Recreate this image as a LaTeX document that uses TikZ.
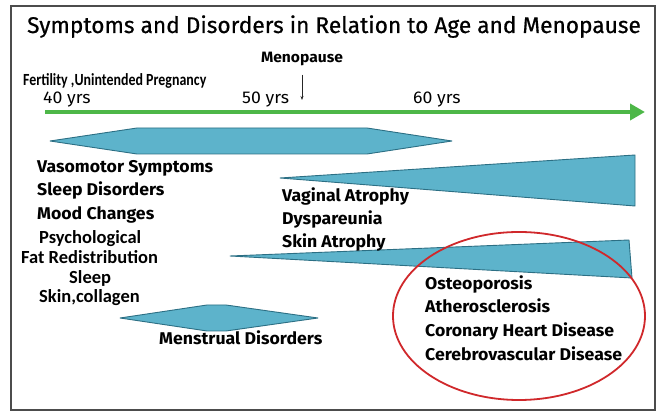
\documentclass[tikz,border=0pt]{standalone}
\usepackage{fontspec}
\setmainfont{Fira Sans}
\newfontfamily\comicfont[FakeStretch=1.04]{Fira Sans}
\newfontfamily\titlefont[FakeBold=0.6]{Fira Sans}
\newfontfamily\calfont{Carlito}
\newfontfamily\narrowfont[FakeStretch=0.82]{Carlito}
\usepackage{tikz}
\usetikzlibrary{arrows.meta,positioning}
\definecolor{bandfill}{HTML}{5DB3CB}
\definecolor{bandline}{HTML}{2C6F84}
\definecolor{ageline}{HTML}{4DB748}
\definecolor{ring}{HTML}{D0282B}

\begin{document}
\begin{tikzpicture}[x=1pt,y=-1pt,
  lbl/.style={anchor=base west,inner sep=0pt,font=\comicfont\fontsize{17}{19}\selectfont\bfseries},
  cal/.style={anchor=base west,inner sep=0pt,font=\calfont\fontsize{18.5}{20}\selectfont\bfseries},
  age/.style={anchor=base west,inner sep=0pt,font=\comicfont\fontsize{17}{19}\selectfont},
  band/.style={fill=bandfill,draw=bandline,line width=0.9pt,line join=round}]
 \useasboundingbox (0,0) rectangle (657,411);
 \draw[gray!60!black,line width=1.2pt] (11,6) rectangle (655,410);
 % title
 \node[anchor=base,inner sep=0pt,font=\titlefont\fontsize{22.7}{25}\selectfont] (title) at (334,33)
   {Symptoms and Disorders in Relation to Age and Menopause};
 % age axis
 \node[anchor=base west,inner sep=0pt,font=\narrowfont\fontsize{17}{19}\selectfont\bfseries] (fert) at (23,86)
   {Fertility ,Unintended Pregnancy};
 \node[anchor=base,inner sep=0pt,font=\comicfont\fontsize{15}{17}\selectfont\bfseries] (meno) at (302,63) {Menopause};
 \coordinate (mp) at (302,100);
 \draw[gray!30!black,line width=0.7pt,-{Stealth[length=4pt,width=3pt]}] ([yshift=-8pt]meno.south) -- (mp);
 \node[age] (y40) at (43,104) {40 yrs};
 \node[age] (y50) at (242,104) {50 yrs};
 \node[age] (y60) at (413,104) {60 yrs};
 \coordinate (t0) at (45,112);
 \coordinate (t1) at (645,112);
 \draw[ageline,line width=4.5pt,-{Triangle[length=15pt,width=16pt]}] (t0) -- (t1);
 % bands
 \draw[band] (50,141) -- (137,128) -- (367,128) -- (452,141) -- (367,154) -- (137,154) -- cycle;
 \draw[band] (280,178) -- (635,155) -- (635,206) -- cycle;
 \draw[band] (230,256) -- (629,240) -- (632,278) -- cycle;
 \draw[band] (120,318) -- (207,305) -- (226,305) -- (318,318) -- (226,331) -- (207,331) -- cycle;
 % labels
 \foreach \t/\x/\y [count=\i] in {Vasomotor Symptoms/37/173, Sleep Disorders/37/196, Mood Changes/37/220,
   Vaginal Atrophy/282/202, Dyspareunia/282/225, Skin Atrophy/282/248,
   Menstrual Disorders/159/345}
   \node[lbl] (s\i) at (\x,\y) {\t};
 \foreach \t/\x/\y [count=\i] in {Psychological/39/244, Fat Redistribution/21/264, Sleep/69/284, {Skin,collagen}/39/303}
   \node[cal] (c\i) at (\x,\y) {\t};
 % late disorders
 \draw[ring,line width=1.8pt] (519,316) ellipse [x radius=126,y radius=84];
 \foreach \t/\y [count=\i] in {Osteoporosis/290, Atherosclerosis/313, Coronary Heart Disease/337, Cerebrovascular Disease/361}
   \node[lbl] (d\i) at (425,\y) {\t};
\end{tikzpicture}
\end{document}
